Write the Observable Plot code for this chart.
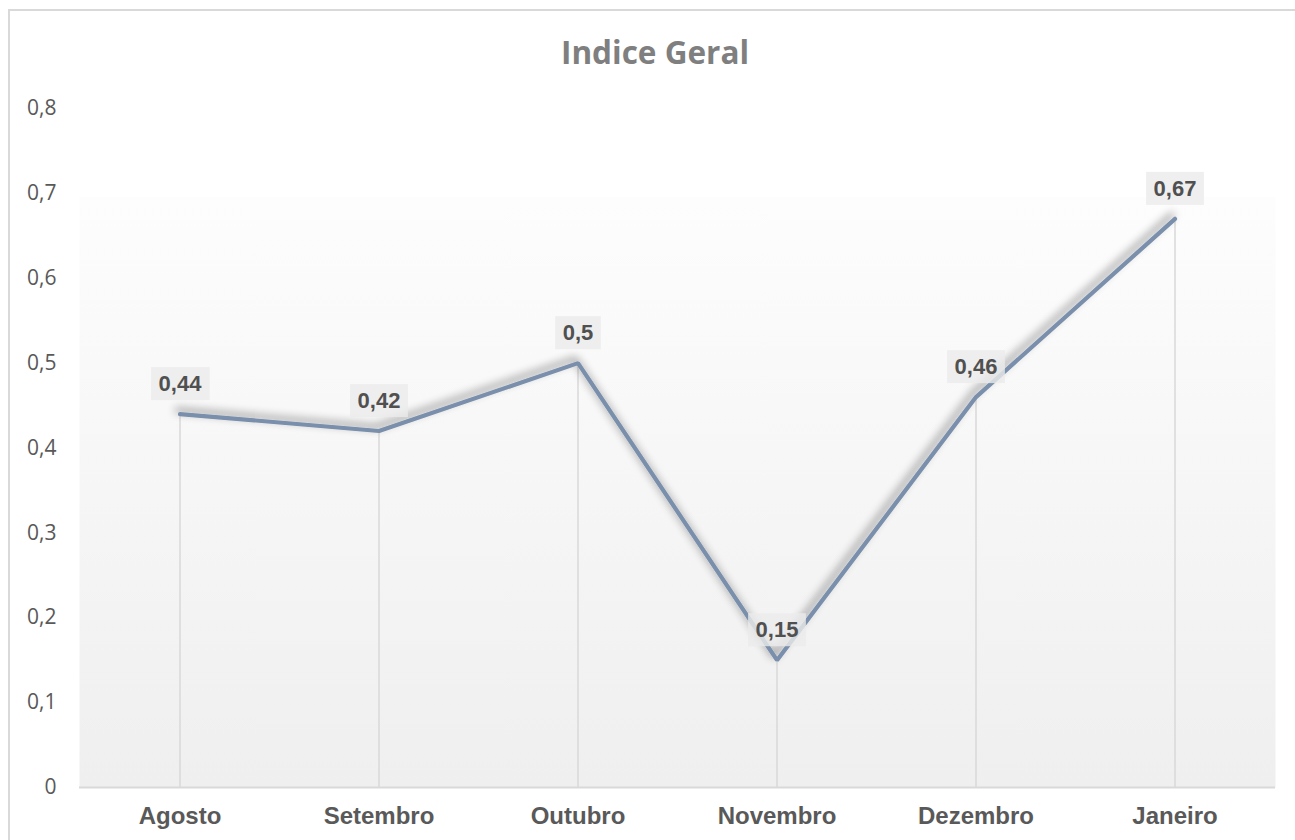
<!DOCTYPE html>
<html><head><meta charset="utf-8">
<script src="https://cdn.jsdelivr.net/npm/d3@7"></script>
<script src="https://cdn.jsdelivr.net/npm/@observablehq/plot@0.6"></script>
<style>
body{margin:0;background:#fff;}
#wrap{position:relative;width:1295px;height:840px;overflow:hidden;}
#border{position:absolute;left:8px;top:9px;width:1400px;height:900px;border-left:2px solid #d9d9d9;border-top:2px solid #d9d9d9;}
#title{position:absolute;left:0;width:1310px;top:32px;text-align:center;font:700 31.5px "Open Sans";color:#7f7f7f;line-height:40px;}
#chart{position:absolute;left:0;top:0;}
</style></head><body>
<div id="wrap"><div id="border"></div><div id="chart"></div><div id="title">Indice Geral</div></div>
<script>
const months = ["Agosto", "Setembro", "Outubro", "Novembro", "Dezembro", "Janeiro"];
const values = [0.44, 0.42, 0.5, 0.15, 0.46, 0.67];
const yTicks = [0, 0.1, 0.2, 0.3, 0.4, 0.5, 0.6, 0.7, 0.8];

const data = months.map((m, i) => ({month: m, value: values[i]}));
const fmt = d => String(d).replace(".", ",");

const plot = Plot.plot({
  width: 1295, height: 840,
  marginLeft: 79, marginRight: 20, marginTop: 108, marginBottom: 53,
  style: {background: "transparent", overflow: "visible", fontFamily: "Liberation Sans"},
  x: {type: "band", domain: months, padding: 0, label: null, axis: null},
  y: {domain: [0, 0.8], label: null, axis: null},
  marks: [
    Plot.frame({fill: "url(#bggrad)", stroke: null}),
    Plot.ruleX(data, {x: "month", y1: 0, y2: "value", stroke: "#d9d9d9", strokeWidth: 1.5}),
    Plot.ruleY([0], {stroke: "#d9d9d9", strokeWidth: 2}),
    Plot.line(data, {x: "month", y: "value", stroke: "#7a8fab", strokeWidth: 4.2, strokeLinejoin: "miter"}),
    Plot.text(data, {x: "month", y: "value", text: d => fmt(d.value), dy: -30,
      fontSize: 22, fontWeight: "bold", fill: "#505050", fontFamily: "Liberation Sans"}),
    Plot.axisX({tickSize: 0, tickPadding: 19, fontSize: 24, fontWeight: "bold", fill: "#595959",
      fontFamily: "Liberation Sans", label: null}),
    Plot.axisY({ticks: yTicks, tickFormat: fmt, tickSize: 0, tickPadding: 23, fontSize: 21,
      fill: "#595959", fontFamily: "Open Sans", label: null})
  ]
});

document.getElementById("chart").appendChild(plot);

const svg = d3.select(plot);
const defs = svg.insert("defs", ":first-child");
const grad = defs.append("linearGradient").attr("id", "bggrad")
  .attr("x1", 0).attr("y1", 0).attr("x2", 0).attr("y2", 1);
grad.append("stop").attr("offset", "0").attr("stop-color", "#ffffff");
grad.append("stop").attr("offset", "0.13").attr("stop-color", "#ffffff");
grad.append("stop").attr("offset", "0.131").attr("stop-color", "#fdfdfd");
grad.append("stop").attr("offset", "1").attr("stop-color", "#efefef");
const f = defs.append("filter").attr("id", "shadow")
  .attr("x", "-20%").attr("y", "-20%").attr("width", "140%").attr("height", "140%");
f.append("feDropShadow").attr("dx", -3).attr("dy", -4).attr("stdDeviation", 4)
  .attr("flood-color", "#000").attr("flood-opacity", 0.45);
svg.selectAll('g[aria-label="line"] path').attr("filter", "url(#shadow)");

// label boxes
svg.selectAll('g[aria-label="text"] text').each(function() {
  const b = this.getBBox();
  const t = this.getAttribute("transform");
  const r = document.createElementNS("http://www.w3.org/2000/svg", "rect");
  r.setAttribute("x", b.x - 7.5);
  r.setAttribute("y", b.y - 4);
  r.setAttribute("width", b.width + 15);
  r.setAttribute("height", b.height + 8);
  r.setAttribute("fill", "#ebebeb");
  r.setAttribute("fill-opacity", "0.8");
  if (t) r.setAttribute("transform", t);
  this.parentNode.insertBefore(r, this);
});
</script>
</body></html>
